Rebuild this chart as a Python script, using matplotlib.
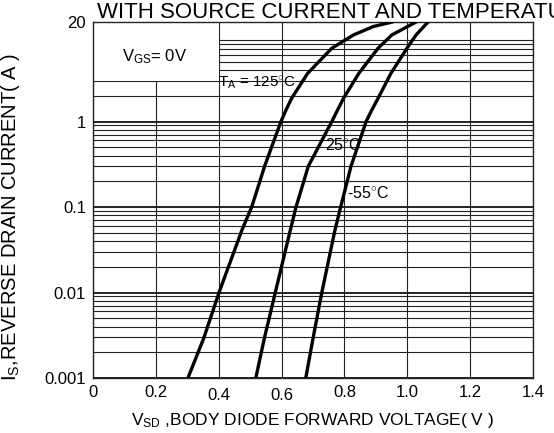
import matplotlib
matplotlib.use("Agg")
import matplotlib.pyplot as plt
from matplotlib.patches import Rectangle
from matplotlib.ticker import LogLocator, NullFormatter

plt.rcParams['font.family'] = ['Liberation Sans', 'DejaVu Sans']
plt.rcParams['mathtext.fontset'] = 'custom'
plt.rcParams['mathtext.rm'] = 'Liberation Sans'
plt.rcParams['mathtext.it'] = 'Liberation Sans'

# body diode curves
i_125 = [0.001, 0.0029, 0.01, 0.054, 0.1, 0.3, 1, 1.36, 1.87, 3.66, 7.2, 10.3, 12.9, 14.7]
v_125 = [0.302, 0.352, 0.401, 0.474, 0.505, 0.546, 0.598, 0.614, 0.632, 0.683, 0.76, 0.829, 0.892, 0.956]

i_25 = [0.001, 0.0029, 0.01, 0.054, 0.1, 0.3, 1, 1.36, 1.87, 3.66, 7.2, 10.3, 14.7]
v_25 = [0.518, 0.545, 0.58, 0.628, 0.646, 0.685, 0.76, 0.778, 0.797, 0.846, 0.907, 0.951, 1.03]

i_m55 = [0.001, 0.0029, 0.01, 0.054, 0.1, 0.3, 1, 1.36, 1.87, 3.66, 7.2, 10.3, 14.7]
v_m55 = [0.677, 0.700, 0.728, 0.77, 0.788, 0.821, 0.869, 0.887, 0.907, 0.948, 0.999, 1.028, 1.067]

x_ticks = [0, 0.2, 0.4, 0.6, 0.8, 1.0, 1.2, 1.4]
x_labels = ["0", "0.2", "0.4", "0.6", "0.8", "1.0", "1.2", "1.4"]
y_top = 14.7
y_ticks = [0.001, 0.01, 0.1, 1, y_top]
y_labels = ["0.001", "0.01", "0.1", "1", "20"]

fig = plt.figure(figsize=(5.54, 4.33), dpi=100)
ax = fig.add_axes([0.1679, 0.127, 0.7942, 0.8229])
ax.set_yscale('log')
ax.set_xlim(0, 1.4)
ax.set_ylim(0.001, y_top)

ax.set_xticks(x_ticks)
ax.set_xticklabels(x_labels, fontsize=12)
ax.set_yticks(y_ticks)
ax.set_yticklabels(y_labels, fontsize=12)
ax.yaxis.set_minor_locator(LogLocator(base=10, subs=range(2, 10), numticks=20))
ax.yaxis.set_minor_formatter(NullFormatter())
ax.tick_params(which='both', length=0)
ax.tick_params(axis='x', pad=5)
ax.tick_params(axis='y', pad=5)
for k in (2, 3):
    ax.xaxis.get_major_ticks()[k].set_pad(7.5)

ax.set_axisbelow(True)
ax.grid(True, which='major', axis='x', color='#222222', lw=0.8)
ax.grid(True, which='major', axis='y', color='#222222', lw=1.4)
ax.grid(True, which='minor', axis='y', color='#222222', lw=0.8)
for s in ax.spines.values():
    s.set_linewidth(1.0)
    s.set_color('#222222')

# blank corner box holding the V_GS note
ax.add_patch(Rectangle((0, 3), 0.4, y_top - 3, facecolor='white', edgecolor='none', zorder=1))

for v, i in [(v_125, i_125), (v_25, i_25), (v_m55, i_m55)]:
    ax.plot(v, i, color='black', lw=2.4, solid_capstyle='butt', solid_joinstyle='round', zorder=3)

ax.text(0.197, 5.67, r"V$_{\mathregular{GS}}$= 0V", fontsize=12, ha='center', va='center', zorder=4)
ax.text(0.398, 2.82, r"T$_{\mathregular{A}}$ = 125$^{\circ}$C", fontsize=11, ha='left', va='center', zorder=4)
ax.text(0.738, 0.53, r"25$^{\circ}$C", fontsize=11.5, ha='left', va='center', zorder=4)
ax.text(0.807, 0.145, r"-55$^{\circ}$C", fontsize=11.5, ha='left', va='center', zorder=4)

fig.text(97 / 554, 1 - 12 / 433, "WITH SOURCE CURRENT AND TEMPERATURE", fontsize=16, ha='left', va='center')
fig.text(313 / 554, 1 - 421 / 433, r"V$_{\mathregular{SD}}$ ,BODY DIODE FORWARD VOLTAGE( V )",
         fontsize=12.5, ha='center', va='center')
fig.text(11 / 554, 0.5, r"I$_{\mathregular{S}}$,REVERSE DRAIN CURRENT( A )", fontsize=14.5,
         rotation=90, ha='center', va='center')

fig.savefig("out.png", dpi=100)
